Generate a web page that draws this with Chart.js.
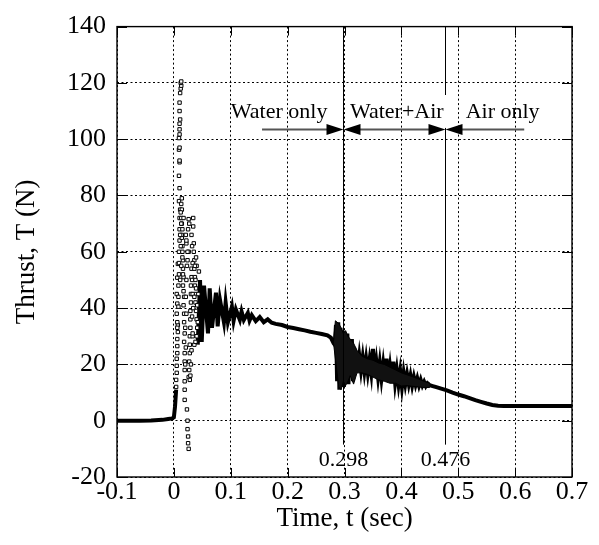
<!DOCTYPE html>
<html>
<head>
<meta charset="utf-8">
<title>Thrust vs time</title>
<script src="https://cdn.jsdelivr.net/npm/chart.js@4.4.0/dist/chart.umd.min.js"></script>
<style>
  html, body { margin: 0; padding: 0; background: #fff; }
  #wrap { width: 599px; height: 545px; }
</style>
</head>
<body>
<div id="wrap"><canvas id="thrustChart" width="599" height="545"></canvas></div>
<script>
// --- data ---

// quiet trace before ignition
const baseTime   = [-0.1, -0.08, -0.06, -0.04, -0.02, -0.01, -0.003, 0.0, 0.002, 0.004];
const baseThrust = [0, 0, 0, 0.1, 0.3, 0.6, 0.8, 1.2, 5, 11];

// sparse samples of the start-up spike
const spikeTime = [
  0.004, 0.004, 0.005, 0.005, 0.005, 0.006, 0.006, 0.006, 0.007, 0.007,
  0.006, 0.006, 0.005, 0.006, 0.005, 0.006, 0.007,
  0.008, 0.008, 0.008, 0.009, 0.009, 0.009, 0.010, 0.010, 0.010, 0.011,
  0.009, 0.010, 0.009, 0.010, 0.010, 0.009, 0.010, 0.009, 0.010, 0.010, 0.010, 0.011, 0.010, 0.010, 0.011,
  0.012, 0.013, 0.012, 0.013, 0.014, 0.013, 0.014, 0.013, 0.014, 0.015, 0.014, 0.015, 0.015, 0.016,
  0.016, 0.017, 0.016, 0.017, 0.018, 0.017, 0.018, 0.018, 0.019, 0.018, 0.019, 0.019, 0.019, 0.019, 0.019, 0.019,
  0.023, 0.024, 0.024, 0.025, 0.025, 0.026, 0.026, 0.027, 0.027, 0.028, 0.028, 0.028, 0.029, 0.029, 0.029, 0.030, 0.030, 0.030, 0.031, 0.031,
  0.024, 0.026, 0.022, 0.021,
  0.034, 0.034, 0.035, 0.035, 0.036, 0.036, 0.037, 0.037, 0.038, 0.038, 0.039, 0.040, 0.041,
  0.033, 0.036, 0.039, 0.040,
  0.020, 0.021, 0.020, 0.022, 0.021, 0.022, 0.023, 0.024, 0.022, 0.025, 0.026, 0.027,
  0.031, 0.032, 0.033, 0.032, 0.033, 0.034, 0.032, 0.033, 0.031, 0.030, 0.029, 0.028,
  0.036, 0.038, 0.037, 0.039, 0.041, 0.042, 0.043, 0.044, 0.040, 0.038,
  0.012, 0.013, 0.011, 0.014, 0.015, 0.016, 0.017, 0.012, 0.013, 0.011
];
const spikeThrust = [
  12, 14.5, 17, 19.5, 22, 24, 26.5, 29, 31.5, 34,
  33, 35, 38, 41.6, 45, 50.8, 55.7,
  40.5, 44, 48, 52, 56, 60, 64, 68, 72, 75,
  78, 82.6, 87, 91.8, 92.4, 96.3, 97, 100.4, 101.7, 103.5, 105.5, 107, 110, 113, 116.4,
  118, 119, 120, 120.5, 79, 77, 75, 72, 70, 68, 65, 62, 60, 57,
  54, 51, 48, 46, 44, 41, 38, 35, 31, 28, 24, 21, 18, 14, 11, 7.4,
  4, 0, -3, -5.6, -8, -10, 15.5, 18, 21, 24, 27, 30, 33, 36, 39, 42, 45, 48, 51, 54,
  57, 60, 63, 66,
  69, 72, 63, 60, 57, 54, 51, 48, 45, 42, 39, 36, 33,
  30, 27, 58, 55,
  20, 26, 33, 38, 44, 50, 55, 60, 64, 68, 71.6, 70,
  66, 62, 56, 50, 45, 40, 37, 31, 25, 20, 16, 14.5,
  44, 50, 55, 47, 41, 35, 45, 53, 30, 28,
  62, 55, 50, 66, 58, 52, 72, 74, 70, 66
];

// main burning trace (water, then water+air, then air only)
const traceTime = [
  0.042, 0.046, 0.049, 0.053, 0.060, 0.063, 0.067, 0.074, 0.077, 0.081,
  0.088, 0.091, 0.095, 0.102, 0.105, 0.109, 0.116, 0.119, 0.123, 0.130,
  0.133, 0.137, 0.144, 0.151, 0.158, 0.165, 0.172, 0.179, 0.19, 0.20,
  0.21, 0.22, 0.23, 0.24, 0.25, 0.26, 0.27,
  0.276, 0.281, 0.283, 0.285, 0.287, 0.289, 0.291, 0.293, 0.295, 0.297,
  0.299, 0.301, 0.303, 0.305, 0.307, 0.309, 0.311, 0.313, 0.315, 0.317,
  0.319, 0.321, 0.323, 0.326, 0.329, 0.332, 0.335, 0.338, 0.341, 0.344,
  0.347, 0.350, 0.353, 0.356, 0.359, 0.362, 0.365, 0.368, 0.371, 0.374,
  0.377, 0.380, 0.383, 0.386, 0.389, 0.392, 0.395, 0.398, 0.401, 0.404,
  0.407, 0.410, 0.413, 0.416, 0.419, 0.422, 0.425, 0.428, 0.431, 0.434,
  0.437, 0.440, 0.443, 0.446, 0.450, 0.455, 0.46, 0.47, 0.48, 0.49,
  0.50, 0.51, 0.52, 0.53, 0.54, 0.55, 0.56, 0.57, 0.58, 0.60,
  0.65, 0.70
];
const traceThrust = [
  27, 50, 28, 48, 31, 47, 33, 45.5, 33.5, 43,
  35, 42, 35, 40.5, 35.5, 39.5, 35.8, 38.8, 35.8, 38.3,
  35.6, 37.5, 35.4, 36.8, 35.0, 36.0, 34.8, 34.4, 34.0, 33.3,
  32.9, 32.5, 32.1, 31.6, 31.2, 30.8, 30.3,
  29.5, 27.5, 27, 34, 14, 35, 11, 33, 16, 32,
  12, 30, 17, 31, 13, 28, 18, 29, 14, 26,
  17, 24, 18, 23, 18, 22.5, 17.5, 22, 17, 21.5,
  17, 25.5, 16, 21, 15.5, 20.5, 15, 20, 14.5, 22,
  14, 19, 13.5, 21, 13.5, 18, 13, 17.5, 12, 17,
  13, 16.5, 13, 16, 12.5, 15.5, 12.8, 15, 12.5, 14.5,
  12.5, 13.8, 12.3, 13.3, 12.6, 12.3, 12, 11.4, 10.8, 10,
  9.3, 8.7, 8, 7.3, 6.7, 6.1, 5.6, 5.3, 5.2, 5.2,
  5.2, 5.2
];

// envelope of the dense noisy band during water+air ejection
const noiseTime  = [0.281, 0.284, 0.290, 0.294, 0.298, 0.302, 0.306, 0.310, 0.316, 0.322, 0.330, 0.340, 0.350, 0.360, 0.370, 0.380, 0.390, 0.400, 0.410, 0.420, 0.430, 0.440, 0.450];
const noiseUpper = [28.5, 35.5, 34.5, 33, 31, 32, 30, 29, 27.5, 25, 23, 22, 21.5, 20.5, 20, 19, 18, 17, 16.3, 15.6, 14.8, 14, 13.3];
const noiseLower = [27, 22, 12, 11, 14, 12.5, 14, 16, 13, 17, 17, 16.5, 15.5, 14.5, 14, 13.3, 13.3, 12.3, 12.5, 12.2, 12, 11.8, 11.8];

// phase boundaries and their names
const phaseBounds = [0.298, 0.476];
const phaseLabels = ['Water only', 'Water+Air', 'Air only'];

const xTicks = [-0.1, 0, 0.1, 0.2, 0.3, 0.4, 0.5, 0.6, 0.7];
const yTicks = [-20, 0, 20, 40, 60, 80, 100, 120, 140];

const SERIF = "'Liberation Serif', 'Times New Roman', serif";

function toPoints(xs, ys) {
  return xs.map((x, i) => ({ x: x, y: ys[i] }));
}

// frame, inward ticks, phase lines, arrows and their labels
const phasePlugin = {
  id: 'phaseMarks',
  afterDatasetsDraw(chart) {
    const { ctx, chartArea: a, scales: { x, y } } = chart;
    const seg = (x1, y1, x2, y2) => { ctx.beginPath(); ctx.moveTo(x1, y1); ctx.lineTo(x2, y2); ctx.stroke(); };
    const head = (tip, py, dir) => {
      ctx.beginPath();
      ctx.moveTo(tip, py);
      ctx.lineTo(tip - dir * 17, py - 5.5);
      ctx.lineTo(tip - dir * 17, py + 5.5);
      ctx.closePath();
      ctx.fill();
    };

    ctx.save();
    ctx.strokeStyle = '#000';
    ctx.fillStyle = '#000';

    // inward tick marks on all four sides
    ctx.lineWidth = 1;
    xTicks.forEach(v => {
      const px = Math.round(x.getPixelForValue(v)) + 0.5;
      seg(px, a.top, px, a.top + 9);
      seg(px, a.bottom, px, a.bottom - 9);
    });
    yTicks.forEach(v => {
      const py = Math.round(y.getPixelForValue(v)) + 0.5;
      seg(a.left, py, a.left + 10, py);
      seg(a.right, py, a.right - 10, py);
    });

    // frame
    ctx.lineWidth = 1.4;
    ctx.strokeRect(a.left, a.top, a.right - a.left, a.bottom - a.top);

    // phase boundary lines
    ctx.lineWidth = 1;
    const p1 = Math.round(x.getPixelForValue(phaseBounds[0])) + 0.5;
    const p2 = Math.round(x.getPixelForValue(phaseBounds[1])) + 0.5;
    const lineEnd = y.getPixelForValue(-8.5);
    seg(p1, a.top, p1, lineEnd);
    seg(p2, a.top, p2, y.getPixelForValue(115.7));
    seg(p2, y.getPixelForValue(104), p2, lineEnd);

    // arrows
    const ay = Math.round(y.getPixelForValue(103.7)) + 0.5;
    const aStart = x.getPixelForValue(0.155);
    const aEnd = x.getPixelForValue(0.616);
    ctx.strokeStyle = '#555';
    ctx.lineWidth = 1.8;
    seg(aStart, ay, p1 - 10, ay);
    seg(p1 + 10, ay, p2 - 10, ay);
    seg(p2 + 10, ay, aEnd, ay);
    head(p1, ay, 1);
    head(p1, ay, -1);
    head(p2, ay, 1);
    head(p2, ay, -1);

    // phase names
    ctx.fillStyle = '#000';
    ctx.font = '22px ' + SERIF;
    ctx.textAlign = 'center';
    ctx.textBaseline = 'alphabetic';
    const ty = y.getPixelForValue(107.6);
    ctx.fillText(phaseLabels[0], x.getPixelForValue(0.185), ty);
    ctx.fillText(phaseLabels[1], x.getPixelForValue(0.392), ty);
    ctx.fillText(phaseLabels[2], x.getPixelForValue(0.578), ty);

    // boundary values
    const vy = y.getPixelForValue(-16.2);
    ctx.fillText(String(phaseBounds[0]), p1, vy);
    ctx.fillText(String(phaseBounds[1]), p2, vy);

    ctx.restore();
  }
};

new Chart(document.getElementById('thrustChart'), {
  type: 'scatter',
  data: {
    datasets: [
      {
        label: 'noise upper',
        data: toPoints(noiseTime, noiseUpper),
        showLine: true,
        borderColor: '#000',
        borderWidth: 1,
        pointRadius: 0
      },
      {
        label: 'noise lower',
        data: toPoints(noiseTime, noiseLower),
        showLine: true,
        borderColor: '#000',
        borderWidth: 1,
        pointRadius: 0,
        backgroundColor: '#111',
        fill: '-1'
      },
      {
        label: 'base',
        data: toPoints(baseTime, baseThrust),
        showLine: true,
        borderColor: '#000',
        borderWidth: 4,
        pointRadius: 0
      },
      {
        label: 'spike',
        data: toPoints(spikeTime, spikeThrust),
        showLine: false,
        pointStyle: 'rect',
        pointRadius: 2.4,
        borderWidth: 1,
        borderColor: '#000',
        backgroundColor: '#fff'
      },
      {
        label: 'trace',
        data: toPoints(traceTime, traceThrust),
        showLine: true,
        borderColor: '#000',
        borderWidth: 4,
        pointRadius: 0,
        tension: 0
      }
    ]
  },
  options: {
    responsive: false,
    animation: false,
    layout: { padding: { top: 24, right: 27, left: 0, bottom: 0 } },
    plugins: {
      legend: { display: false },
      tooltip: { enabled: false },
      filler: { propagate: false }
    },
    scales: {
      x: {
        type: 'linear',
        min: -0.1,
        max: 0.7,
        afterFit: s => { s.height = 68; },
        afterBuildTicks: s => { s.ticks = xTicks.map(v => ({ value: v })); },
        ticks: {
          color: '#000',
          padding: 0,
          maxRotation: 0,
          font: { family: SERIF, size: 26 },
          callback: v => String(Math.round(v * 10) / 10)
        },
        grid: { color: '#000', lineWidth: 1, drawTicks: false },
        border: { display: false, dash: [2, 2.5] },
        title: {
          display: true,
          text: 'Time, t (sec)',
          color: '#000',
          font: { family: SERIF, size: 27 },
          padding: { top: 0, bottom: 10 }
        }
      },
      y: {
        min: -20,
        max: 140,
        afterFit: s => { s.width = 117; },
        afterBuildTicks: s => { s.ticks = yTicks.map(v => ({ value: v })); },
        ticks: {
          color: '#000',
          padding: 11,
          font: { family: SERIF, size: 26 }
        },
        grid: { color: '#000', lineWidth: 1, drawTicks: false },
        border: { display: false, dash: [2, 2.5] },
        title: {
          display: true,
          text: 'Thrust, T (N)',
          color: '#000',
          font: { family: SERIF, size: 27 },
          padding: { top: 11, bottom: 0 }
        }
      }
    }
  },
  plugins: [phasePlugin]
});
</script>
</body>
</html>
